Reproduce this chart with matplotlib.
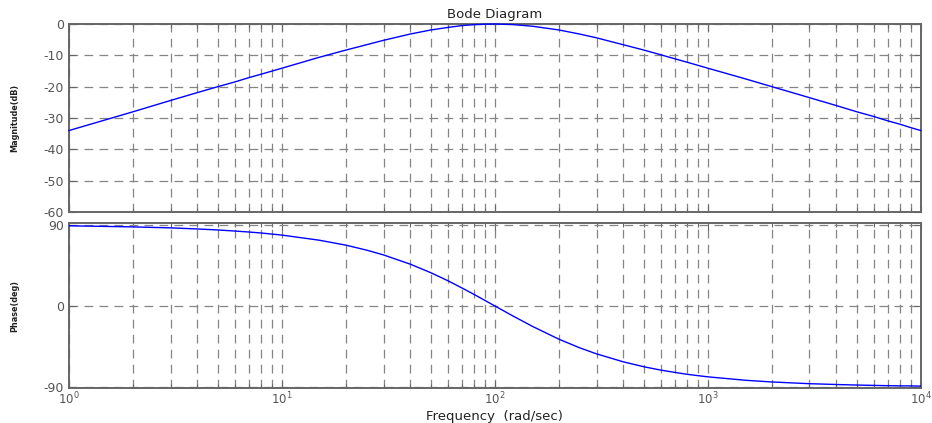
import matplotlib
matplotlib.use("Agg")
import matplotlib.pyplot as plt
from matplotlib.ticker import LogLocator, FixedLocator, NullFormatter

# Frequency response samples (rad/sec)
freq = [1, 2, 3, 4, 5, 6, 7, 8, 9,
        10, 15, 20, 25, 30, 40, 50, 60, 70, 80, 90,
        100, 120, 150, 200, 250, 300, 400, 500, 600, 700, 800, 900,
        1000, 1500, 2000, 3000, 4000, 5000, 6000, 7000, 8000, 9000, 10000]

magnitude_db = [-34.0, -28.0, -24.4, -21.9, -20.0, -18.5, -17.1, -16.0, -15.0,
                -14.1, -10.6, -8.3, -6.6, -5.2, -3.2, -1.9, -1.1, -0.5, -0.2, -0.05,
                0.0, -0.15, -0.7, -1.9, -3.2, -4.4, -6.6, -8.3, -9.8, -11.1, -12.2, -13.2,
                -14.1, -17.5, -20.0, -23.5, -26.0, -28.0, -29.5, -30.9, -32.0, -33.1, -34.0]

phase_deg = [88.9, 87.7, 86.6, 85.4, 84.3, 83.1, 82.0, 80.9, 79.7,
             78.6, 72.9, 67.4, 61.9, 56.6, 46.4, 36.9, 28.1, 20.0, 12.7, 6.0,
             0.0, -10.4, -22.6, -36.9, -46.4, -53.1, -61.9, -67.4, -71.1, -73.7, -75.8, -77.3,
             -78.6, -82.4, -84.3, -86.2, -87.1, -87.7, -88.1, -88.4, -88.6, -88.7, -88.9]

mag_ticks = [0, -10, -20, -30, -40, -50, -60]
phase_ticks = [90, 0, -90]

GRID = "#858585"
SPINE = "#666666"
TXT = "#555555"
FONT = ["DejaVu Sans"]

fig = plt.figure(figsize=(9.32, 4.23), dpi=100)
ax1 = fig.add_axes([0.074, 0.4988, 0.914, 0.4444])
ax2 = fig.add_axes([0.074, 0.0827, 0.914, 0.3901])

for ax in (ax1, ax2):
    ax.set_xscale("log")
    ax.set_xlim(1, 1e4)
    ax.xaxis.set_major_locator(LogLocator(base=10, numticks=10))
    ax.xaxis.set_minor_locator(LogLocator(base=10, subs=range(2, 10), numticks=100))
    ax.xaxis.set_minor_formatter(NullFormatter())
    ax.grid(True, which="both", axis="x", color=GRID, linestyle=(0, (7, 5)), linewidth=0.9)
    ax.grid(True, which="major", axis="y", color=GRID, linestyle=(0, (7, 5)), linewidth=0.9)
    ax.tick_params(which="both", direction="in", top=True, right=True,
                   colors=SPINE, labelcolor=TXT, labelsize=9, width=0.8)
    ax.tick_params(axis="x", labelsize=8.5, pad=2)
    ax.tick_params(which="major", length=5)
    ax.tick_params(which="minor", length=3)
    for lab in ax.get_xticklabels() + ax.get_yticklabels():
        lab.set_family(FONT)
    for sp in ax.spines.values():
        sp.set_color(SPINE)
        sp.set_linewidth(1.4)

ax1.plot(freq, magnitude_db, color="#0000ff", linewidth=1.0, zorder=3, clip_on=False)
ax1.set_ylim(-60, 0)
ax1.yaxis.set_major_locator(FixedLocator(mag_ticks))
ax1.set_yticklabels([str(t) for t in mag_ticks])
ax1.xaxis.set_major_formatter(NullFormatter())
ax1.set_title("Bode Diagram", fontsize=9.5, color="#222222", pad=4, family=FONT)
ax1.set_ylabel("Magnitude(dB)", fontsize=6.5, fontweight="bold", fontstretch="condensed",
               color="#222222", family=FONT)
ax1.yaxis.set_label_coords(-0.058, 0.5)

ax2.plot(freq, phase_deg, color="#0000ff", linewidth=1.0, zorder=3)
ax2.set_ylim(-91, 92)
ax2.yaxis.set_major_locator(FixedLocator(phase_ticks))
ax2.set_yticklabels([str(t) for t in phase_ticks])
ax2.set_ylabel("Phase(deg)", fontsize=6.5, fontweight="bold", fontstretch="condensed",
               color="#222222", family=FONT)
ax2.yaxis.set_label_coords(-0.058, 0.5)
ax2.set_xlabel("Frequency  (rad/sec)", fontsize=9.5, color="#222222", family=FONT, va="center")
ax2.xaxis.set_label_coords(0.5, -0.17)

fig.savefig("out.png", dpi=100)
